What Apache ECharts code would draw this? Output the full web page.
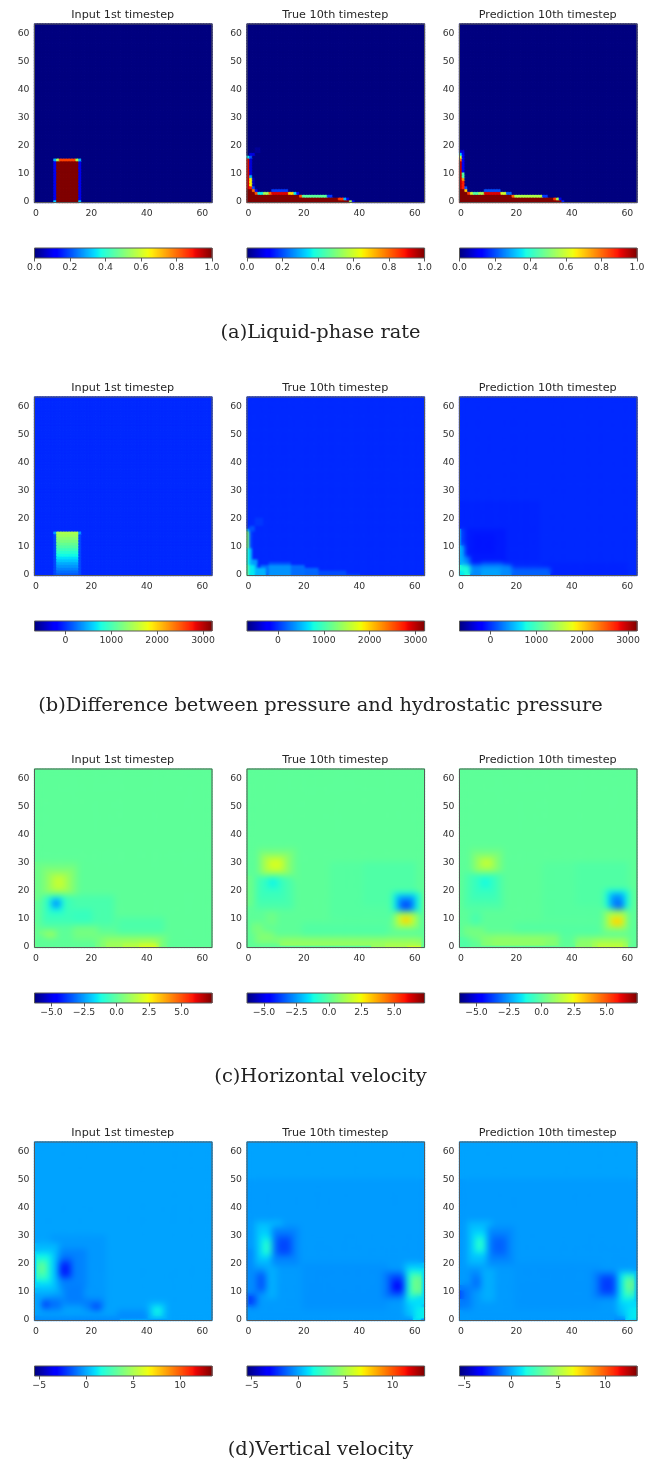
<!DOCTYPE html>
<html><head><meta charset="utf-8">
<style>html,body{margin:0;padding:0;background:#fff}#c{width:657px;height:1461px;filter:blur(0.5px)}</style>
<script src="https://cdn.jsdelivr.net/npm/echarts@6/dist/echarts.min.js"></script>
</head><body><div id="c"></div>
<script>
// Every patch is a region: [x0, x1, y0, y1, value], painted in order.
const cellAxis = Array.from({length: 64}, (_, i) => i);
const panelTitles = ['Input 1st timestep', 'True 10th timestep', 'Prediction 10th timestep'];
const captions = ['(a)Liquid-phase rate', '(b)Difference between pressure and hydrostatic pressure', '(c)Horizontal velocity', '(d)Vertical velocity'];
const xTicks = [0, 20, 40, 60];
const yTicks = [0, 10, 20, 30, 40, 50, 60];

const ranges = [[0, 1], [-674, 3196], [-6.3, 7.33], [-5.5, 13.4]];
const barTicks = [[0, 0.2, 0.4, 0.6, 0.8, 1], [0, 1000, 2000, 3000], [-5, -2.5, 0, 2.5, 5], [-5, 0, 5, 10]];
const barTickLabels = [['0.0', '0.2', '0.4', '0.6', '0.8', '1.0'], ['0', '1000', '2000', '3000'], ['\u22125.0', '\u22122.5', '0.0', '2.5', '5.0'], ['\u22125', '0', '5', '10']];
const baseValues = [0, -35, 0.03, -0.1];

const liquidInput = [[8,15,0,15,1],[7,7,0,14,0.1],[16,16,0,14,0.1],[7,7,0,0,0.33],[16,16,0,0,0.33],[7,7,15,15,0.3],[16,16,15,15,0.3],[8,8,15,15,0.55],[15,15,15,15,0.55],[9,14,15,15,0.84]];
const liquidTrue = [[0,36,0,0,1],[37,37,0,0,0.55],[38,38,0,0,0.12],[0,32,1,1,1],[33,34,1,1,0.85],[35,35,1,1,0.3],[36,36,1,1,0.1],[0,18,2,2,1],[19,19,2,2,0.82],[20,28,2,2,0.46],[29,30,2,2,0.18],[0,2,3,3,1],[3,3,3,3,0.82],[4,5,3,3,0.36],[6,7,3,3,0.55],[8,8,3,3,0.8],[9,14,3,3,0.92],[15,16,3,3,0.68],[17,17,3,3,0.35],[18,18,3,3,0.14],[0,1,4,4,1],[2,2,4,4,0.8],[3,3,4,4,0.1],[9,14,4,4,0.18],[0,0,5,15,0.93],[1,1,5,5,0.88],[2,2,5,5,0.2],[1,1,6,8,0.65],[2,2,6,8,0.05],[1,1,9,9,0.3],[1,1,10,15,0.08],[0,0,16,16,0.35],[1,1,16,16,0.2],[1,2,17,17,0.08],[3,4,18,19,0.02]];
const liquidPred = [[0,36,0,0,1],[37,37,0,0,0.15],[0,33,1,1,1],[34,34,1,1,0.85],[35,35,1,1,0.55],[36,36,1,1,0.1],[0,18,2,2,1],[19,19,2,2,0.8],[20,29,2,2,0.56],[30,31,2,2,0.18],[0,2,3,3,1],[3,3,3,3,0.85],[4,4,3,3,0.6],[5,6,3,3,0.45],[7,8,3,3,0.55],[9,14,3,3,0.92],[15,16,3,3,0.6],[17,18,3,3,0.22],[0,1,4,4,1],[2,2,4,4,0.7],[9,14,4,4,0.2],[0,0,5,14,0.95],[1,1,5,7,0.88],[2,2,5,5,0.2],[1,1,8,8,0.75],[1,1,9,10,0.45],[1,1,11,17,0.1],[0,0,15,15,0.8],[0,0,16,16,0.6],[0,0,17,17,0.33],[0,1,18,18,0.08]];

const pressureInput = [[7,7,0,15,80],[16,16,0,15,80],[8,15,0,0,150],[8,15,1,1,220],[8,15,2,2,300],[8,15,3,3,380],[8,15,4,4,460],[8,15,5,5,560],[8,15,6,6,660],[8,15,7,7,760],[8,15,8,8,860],[8,15,9,9,960],[8,15,10,10,1060],[8,15,11,11,1150],[8,15,12,12,1240],[8,15,13,13,1330],[8,15,14,14,1410],[8,15,15,15,1480],[7,7,15,15,400],[16,16,15,15,400]];
const pressureTrue = [[35,40,0,0,40],[25,35,0,1,100],[16,25,0,2,200],[5,20,0,3,230],[8,15,4,4,130],[8,15,0,3,370],[3,6,0,2,500],[2,3,3,5,400],[1,2,0,3,700],[1,1,4,9,500],[0,0,0,3,1050],[0,0,4,9,800],[0,0,10,15,1200],[1,1,10,15,100],[0,0,16,16,500],[1,2,16,17,120],[3,5,18,20,20]];
const pressurePred = [[0,28,5,26,-55],[3,16,5,16,-90],[5,12,8,14,-110],[30,60,0,4,-55],[18,32,0,2,180],[4,18,0,3,340],[8,15,4,4,160],[8,14,0,2,430],[1,3,4,6,300],[0,1,3,10,480],[0,0,11,16,300],[1,1,11,16,40],[0,3,0,3,820],[0,1,0,1,700]];

const horizInput = [[30,46,5,10,-0.25],[0,15,17,30,0.25],[3,14,19,28,0.6],[5,12,20,26,1.1],[7,10,21,25,1.7],[3,28,8,18,-0.3],[3,13,9,18,-0.5],[14,20,9,13,-0.6],[5,10,12,18,-0.9],[6,9,14,17,-1.8],[7,8,15,16,-3],[14,22,3,7,0.4],[22,47,0,4,0.4],[24,45,0,3,0.7],[26,43,0,2,1.1],[32,44,0,1,1.5],[38,43,0,1,2],[2,7,5,5,1.1],[4,7,4,4,1.2],[0,0,0,8,0.2]];
const horizTrue = [[30,55,10,30,-0.1],[42,60,15,30,-0.2],[20,50,3,8,-0.15],[0,3,15,25,0.25],[4,17,24,35,0.3],[5,15,26,33,0.8],[6,13,27,32,1.3],[8,12,28,31,2],[3,16,14,25,-0.3],[4,13,17,25,-0.5],[6,12,20,25,-0.7],[8,10,22,24,-1.3],[7,10,8,12,0.3],[52,62,12,19,-0.5],[53,61,13,19,-1.3],[54,60,13,18,-2.2],[55,59,14,17,-3],[56,58,14,15,-3.9],[53,61,7,12,0.8],[54,60,8,12,1.3],[55,59,8,11,1.9],[56,58,9,10,3.2],[2,5,5,8,0.5],[4,9,3,5,0.6],[3,62,2,3,0.7],[12,60,1,2,1],[45,62,0,2,1],[50,62,0,1,1.3],[58,62,0,0,1.8]];
const horizPred = [[30,55,10,30,-0.08],[42,60,15,30,-0.18],[20,50,4,8,-0.12],[4,15,24,35,0.25],[5,14,26,33,0.6],[6,12,27,32,1],[8,11,29,31,1.7],[2,15,14,26,-0.25],[4,13,17,26,-0.5],[6,12,20,25,-0.7],[8,10,22,24,-1.2],[4,7,8,12,-0.3],[52,61,13,20,-0.5],[53,60,13,20,-1.2],[54,59,13,19,-2],[55,58,14,18,-2.8],[57,58,14,15,-3.6],[52,60,6,13,0.6],[53,59,7,12,1.1],[54,59,8,11,1.7],[55,58,8,10,3],[2,8,3,7,0.4],[8,35,1,4,0.7],[12,30,1,3,0.9],[42,60,0,3,0.8],[48,60,0,2,1.2],[50,58,0,1,1.6],[0,3,0,3,-0.2]];

const vertInput = [[6,25,5,30,-0.3],[7,18,12,25,-0.7],[8,13,15,22,-1.3],[9,12,16,20,-2.6],[12,16,7,11,-1.5],[11,17,6,12,-0.8],[18,24,4,7,-0.8],[21,23,4,5,-2],[3,9,4,7,-1],[3,4,5,6,-2.4],[30,40,1,3,-0.5],[0,30,0,1,-0.5],[0,8,10,27,0.3],[0,6,12,24,0.8],[1,5,14,23,1.5],[1,4,15,21,2.4],[2,3,17,20,3.6],[41,47,1,6,0.2],[42,46,2,5,0.7],[43,45,2,4,1.5]];
const vertTrue = [[0,63,0,50,-0.25],[20,50,4,20,-0.4],[3,12,20,35,0.3],[4,11,22,33,0.6],[5,9,23,30,1.1],[6,9,24,28,2],[9,18,20,33,-0.6],[10,16,23,31,-1],[11,15,24,29,-1.8],[0,2,5,25,-0.5],[0,3,5,9,-1],[1,2,6,8,-2.2],[3,8,10,17,-0.8],[4,7,11,16,-1.5],[7,10,8,19,0.1],[49,58,8,17,-0.8],[51,57,9,16,-1.4],[52,56,10,15,-2.1],[53,55,11,13,-3.4],[57,63,2,20,0.5],[58,63,6,18,1],[58,62,8,17,1.8],[59,62,9,16,2.7],[60,62,10,15,3.8],[60,62,0,8,1],[61,63,1,4,1.3]];
const vertPred = [[0,63,0,50,-0.25],[20,50,4,20,-0.35],[3,11,20,35,0.25],[4,10,22,33,0.5],[5,9,24,31,1],[6,8,25,29,2],[10,19,20,33,-0.5],[11,17,22,31,-0.8],[12,16,24,29,-1.3],[0,4,4,10,-0.6],[0,3,5,12,-0.8],[0,1,8,10,-1.5],[4,8,11,17,-0.6],[5,7,12,15,-1],[8,12,7,18,0.1],[48,57,8,17,-0.7],[50,56,9,16,-1.2],[51,55,10,15,-2],[56,59,0,2,-0.5],[57,63,2,17,0.5],[58,62,6,16,1.1],[59,62,8,16,1.9],[60,62,9,15,2.7],[60,62,11,14,3.7],[60,63,0,6,0.9],[61,63,1,4,1.2]];

const panelPatches = [
  [liquidInput, liquidTrue, liquidPred],
  [pressureInput, pressureTrue, pressurePred],
  [horizInput, horizTrue, horizPred],
  [vertInput, vertTrue, vertPred]
];
const softness = [[0.3, 0.3, 0.3], [0.7, 1, 2], [3.2, 3.2, 3.2], [3.2, 3.2, 3.2]];

function jet(t) {
  const lin = (pts) => {
    for (let i = 1; i < pts.length; i++) if (t <= pts[i][0]) {
      const a = pts[i-1], b = pts[i];
      return a[1] + (b[1]-a[1]) * (t-a[0]) / (b[0]-a[0]);
    }
    return pts[pts.length-1][1];
  };
  const r = lin([[0,0],[0.35,0],[0.66,1],[0.89,1],[1,0.5]]);
  const g = lin([[0,0],[0.125,0],[0.375,1],[0.64,1],[0.91,0],[1,0]]);
  const b = lin([[0,0.5],[0.11,1],[0.34,1],[0.65,0],[1,0]]);
  return 'rgb(' + [r,g,b].map(v => Math.round(v*255)).join(',') + ')';
}
const jetStops = Array.from({length: 129}, (_, i) => jet(i/128));

function cellsFrom(patches, base, lo, hi) {
  const g = cellAxis.map(() => cellAxis.map(() => base));
  patches.forEach(([x0,x1,y0,y1,v]) => {
    for (let y = y0; y <= Math.min(y1,63); y++) for (let x = x0; x <= Math.min(x1,63); x++) g[y][x] = v;
  });
  const out = [];
  g.forEach((row, y) => row.forEach((v, x) => out.push({value: [x, y, v], itemStyle: {borderWidth: 0.7, borderColor: jet((v-lo)/(hi-lo))}})));
  return out;
}

const panelLeft = [34.5, 247, 459.5];
const panelWidth = 177.5;
const rowTop = [24, 397, 769, 1142];
const panelHeight = 178.5;
const barOffset = 224;
const barHeight = 10;
const captionTop = [323, 696, 1067, 1440];
const textColor = '#333';
const spine = '#595959';

const opt = {animation: false, backgroundColor: '#fff', title: [], grid: [], xAxis: [], yAxis: [], series: [], visualMap: []};
const heatIdx = [[], [], [], []];

panelPatches.forEach((rowPanels, r) => {
  const [lo, hi] = ranges[r];
  rowPanels.forEach((patches, c) => {
    opt.title.push({text: panelTitles[c], left: panelLeft[c] + panelWidth/2 - 0.5, top: rowTop[r] - 14, textAlign: 'center', padding: 0,
      textStyle: {fontFamily: 'DejaVu Sans', fontSize: 11.2, fontWeight: 'normal', color: '#262626'}});
    let gi = opt.grid.length;
    opt.grid.push({left: panelLeft[c], top: rowTop[r], width: panelWidth, height: panelHeight, show: true, z: 5,
      borderColor: spine, borderWidth: 1, backgroundColor: 'transparent'});
    opt.xAxis.push({type: 'category', gridIndex: gi, data: cellAxis, position: 'bottom',
      axisLine: {show: false}, splitLine: {show: false},
      axisTick: {alignWithLabel: true, length: 3.5, lineStyle: {color: spine}, interval: (i) => xTicks.includes(i)},
      axisLabel: {interval: (i) => xTicks.includes(i), fontFamily: 'DejaVu Sans', fontSize: 9.3, color: textColor, margin: 6.5}});
    opt.yAxis.push({type: 'category', gridIndex: gi, data: cellAxis,
      axisLine: {show: false}, splitLine: {show: false},
      axisTick: {alignWithLabel: true, length: 3.5, lineStyle: {color: spine}, interval: (i) => yTicks.includes(i)},
      axisLabel: {interval: (i) => yTicks.includes(i), fontFamily: 'DejaVu Sans', fontSize: 9.3, color: textColor, margin: 5}});
    heatIdx[r].push(opt.series.length);
    opt.series.push({type: 'heatmap', xAxisIndex: opt.xAxis.length-1, yAxisIndex: opt.yAxis.length-1,
      data: cellsFrom(patches, baseValues[r], lo, hi), progressive: 0, emphasis: {disabled: true}});
    gi = opt.grid.length;
    opt.grid.push({left: panelLeft[c], top: rowTop[r] + barOffset, width: panelWidth, height: barHeight, show: true, z: 5,
      borderColor: spine, borderWidth: 1, backgroundColor: 'transparent'});
    opt.xAxis.push({type: 'value', gridIndex: gi, min: lo, max: hi, splitLine: {show: false}, axisLine: {show: false},
      axisTick: {length: 3.5, lineStyle: {color: spine}, customValues: barTicks[r]},
      axisLabel: {customValues: barTicks[r], showMinLabel: true, showMaxLabel: true, hideOverlap: false,
        formatter: (v) => barTickLabels[r][barTicks[r].indexOf(v)],
        fontFamily: 'DejaVu Sans', fontSize: 9.3, color: textColor, margin: 5}});
    opt.yAxis.push({type: 'value', gridIndex: gi, min: 0, max: 1, show: false});
    const steps = 178;
    opt.series.push({type: 'custom', xAxisIndex: opt.xAxis.length-1, yAxisIndex: opt.yAxis.length-1, silent: true,
      data: Array.from({length: steps}, (_, i) => [lo + (hi-lo)*i/steps, lo + (hi-lo)*(i+1)/steps, (i+0.5)/steps]),
      encode: {x: [0, 1]},
      renderItem: (params, api) => {
        const a = api.coord([api.value(0), 1]), b = api.coord([api.value(1), 0]);
        return {type: 'rect', shape: {x: a[0], y: a[1], width: b[0]-a[0]+0.6, height: b[1]-a[1]}, style: {fill: jet(api.value(2))}};
      }});
  });
  opt.title.push({text: captions[r], left: 320.5, top: captionTop[r], textAlign: 'center', padding: 0,
    textStyle: {fontFamily: 'DejaVu Serif', fontSize: 19.4, fontWeight: 'normal', color: '#222'}});
  opt.visualMap.push({type: 'continuous', show: false, min: lo, max: hi, seriesIndex: heatIdx[r], dimension: 2, inRange: {color: jetStops}});
});

const chart = echarts.init(document.getElementById('c'), null, {renderer: 'canvas', width: 657, height: 1461});
// The reference image is a resampled picture, so the field panels are softened after the library has drawn them.
let softened = false;
chart.on('finished', () => {
  if (softened) return;
  softened = true;
  const cv = chart.getDom().querySelector('canvas');
  const ctx = cv.getContext('2d');
  rowTop.forEach((top, r) => panelLeft.forEach((left, c) => {
    const x = Math.ceil(left) + 1, y = top + 1, w = Math.floor(panelWidth) - 2, h = Math.floor(panelHeight) - 2;
    const off = document.createElement('canvas');
    off.width = w; off.height = h;
    off.getContext('2d').drawImage(cv, x, y, w, h, 0, 0, w, h);
    ctx.save();
    ctx.setTransform(1, 0, 0, 1, 0, 0);
    ctx.beginPath(); ctx.rect(x, y, w, h); ctx.clip();
    ctx.filter = 'blur(' + softness[r][c] + 'px)';
    ctx.drawImage(off, x, y);
    ctx.restore();
  }));
});
chart.setOption(opt);
</script></body></html>
